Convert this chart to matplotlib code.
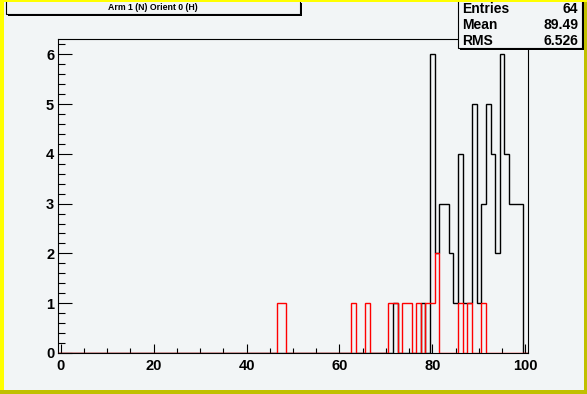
import numpy as np
import matplotlib
matplotlib.use("Agg")
import matplotlib.pyplot as plt
from matplotlib.patches import Rectangle
from matplotlib.ticker import MultipleLocator

# ---- data (bin centres are integers 0..100, bin width 1) ----
black_bins = [72, 78, 80, 81, 82, 83, 84, 85, 86, 87, 88, 89, 90, 91, 92, 93, 94, 95, 96, 97, 98, 99]
black_counts = [1, 1, 6, 2, 3, 3, 2, 1, 4, 1, 1, 5, 1, 3, 5, 4, 2, 6, 4, 3, 3, 3]
red_bins = [47, 48, 63, 66, 71, 72, 74, 75, 77, 79, 80, 81, 86, 88, 91]
red_counts = [1, 1, 1, 1, 1, 1, 1, 1, 1, 1, 1, 2, 1, 1, 1]
title = "Arm 1 (N) Orient 0 (H)"
stat_names = ["Entries", "Mean", "RMS"]
stat_values = ["64", "89.49", "6.526"]
x_ticks = [0, 20, 40, 60, 80, 100]
y_ticks = [0, 1, 2, 3, 4, 5, 6]

nbins = 101
edges = np.arange(nbins + 1) - 0.5
black = np.zeros(nbins)
black[black_bins] = black_counts
red = np.zeros(nbins)
red[red_bins] = red_counts

W, H = 587, 394
pad_col = "#f2f5f6"
plt.rcParams['font.family'] = ['Liberation Sans', 'DejaVu Sans']
plt.rcParams['font.weight'] = 'bold'

fig = plt.figure(figsize=(W / 100, H / 100), dpi=100)
fig.patch.set_facecolor(pad_col)


def frect(x0, y0, x1, y1, **kw):
    """rectangle in pixel coords (top-left origin)"""
    r = Rectangle((x0 / W, 1 - y1 / H), (x1 - x0) / W, (y1 - y0) / H,
                  transform=fig.transFigure, figure=fig, **kw)
    fig.patches.append(r)
    return r


ax = fig.add_axes([58.3 / W, 1 - 353 / H, (527.7 - 58.3) / W, (353 - 39.3) / H])
ax.set_facecolor(pad_col)
ax.set_xlim(-0.5, 100.5)
ax.set_ylim(0, 6.3)

ax.stairs(black, edges, color="black", lw=1.0, baseline=0, zorder=3)
ax.stairs(red, edges, color="red", lw=1.0, baseline=0, zorder=4)

ax.set_xticks(x_ticks)
ax.set_yticks(y_ticks)
ax.xaxis.set_minor_locator(MultipleLocator(5))
ax.yaxis.set_minor_locator(MultipleLocator(0.2))
ax.tick_params(axis='x', which='major', direction='in', length=6.8, width=0.8,
               labelsize=10.5, pad=4, top=False)
ax.tick_params(axis='x', which='minor', direction='in', length=3.4, width=0.8, top=False)
ax.tick_params(axis='y', which='major', direction='in', length=10, width=0.8,
               labelsize=10.5, pad=3, right=False)
ax.tick_params(axis='y', which='minor', direction='in', length=5, width=0.8, right=False)
for lab in ax.get_xticklabels() + ax.get_yticklabels():
    lab.set_fontweight('bold')
for s in ax.spines.values():
    s.set_linewidth(0.8)

# title box with shadow
frect(8, 3, 302, 15.5, facecolor="black", edgecolor="none", zorder=5)
frect(6, 0, 300, 13.5, facecolor=pad_col, edgecolor="black", lw=0.8, zorder=6)
fig.text(153 / W, 1 - 7.5 / H, title, ha='center', va='center', fontsize=6.3,
         fontweight='bold', zorder=7)

# stats box with shadow
frect(460, 1, 583.5, 50, facecolor="black", edgecolor="none", zorder=5)
frect(458, -2, 581.5, 47.5, facecolor=pad_col, edgecolor="black", lw=0.8, zorder=6)
rows_y = [9, 25, 41]
for name, val, yy in zip(stat_names, stat_values, rows_y):
    fig.text(462 / W, 1 - yy / H, name, ha='left', va='center', fontsize=10,
             fontweight='bold', zorder=7)
    fig.text(578 / W, 1 - yy / H, val, ha='right', va='center', fontsize=10,
             fontweight='bold', zorder=7)

# canvas 3D border
frect(0, 0, W, 2, facecolor="#ffff00", edgecolor="none", zorder=10)
frect(0, 0, 4, H, facecolor="#ffff00", edgecolor="none", zorder=10)
frect(0, H - 4, W, H, facecolor="#c0c000", edgecolor="none", zorder=11)
frect(W - 3, 2, W, H, facecolor="#c0c000", edgecolor="none", zorder=11)

fig.savefig("out.png", dpi=100, facecolor=fig.get_facecolor())
